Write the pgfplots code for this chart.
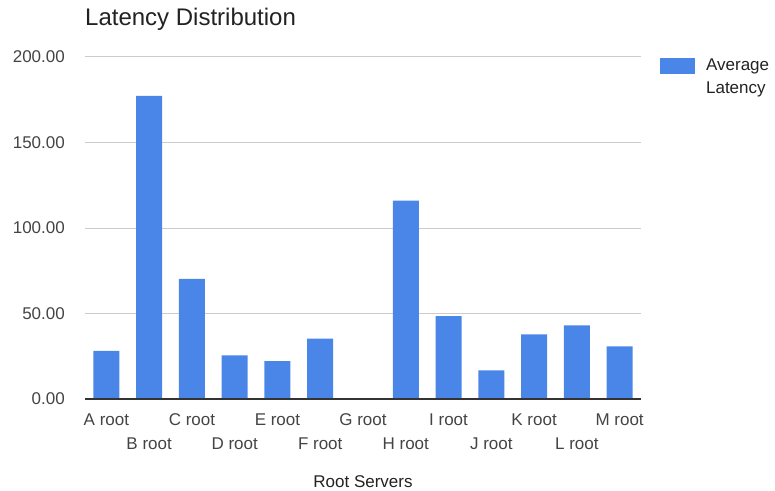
\documentclass[border=0pt]{standalone}
\usepackage{pgfplots}
\pgfplotsset{compat=1.18}
\usepackage{fontspec}
\setmainfont{Liberation Sans}
\definecolor{barblue}{HTML}{4A86E8}
\definecolor{gridgray}{HTML}{CCCCCC}
\definecolor{zerogray}{HTML}{333333}
\definecolor{ticktext}{HTML}{444444}
\definecolor{titletext}{HTML}{222222}
\begin{document}
\begin{tikzpicture}
\useasboundingbox (0,0) rectangle (775pt,490pt);
\begin{axis}[
  at={(85pt,91pt)}, anchor=south west,
  scale only axis, width=556pt, height=342pt,
  ybar, bar width=26pt,
  xmin=-0.5, xmax=12.5, ymin=0, ymax=200,
  ytick={0,50,100,150,200},
  xtick={0,...,12},
  xticklabels={\strut A root, {\strut\\\strut B root}, \strut C root, {\strut\\\strut D root}, \strut E root, {\strut\\\strut F root}, \strut G root, {\strut\\\strut H root}, \strut I root, {\strut\\\strut J root}, \strut K root, {\strut\\\strut L root}, \strut M root},
  /pgf/number format/fixed, /pgf/number format/fixed zerofill,
  /pgf/number format/precision=2, /pgf/number format/assume math mode=true,
  major tick length=0pt, tick style={draw=none},
  axis line style={draw=none},
  ymajorgrids, grid style={draw=gridgray, line width=1pt},
  yticklabel style={inner sep=0pt, xshift=-20pt, font=\fontsize{17}{20}\selectfont, text=ticktext},
  xticklabel style={align=center, inner sep=0pt, yshift=-9.9pt, font=\fontsize{17}{24}\selectfont, text=ticktext},
  title={Latency Distribution},
  title style={at={(axis description cs:0,1)}, anchor=base west, yshift=25pt, inner sep=0pt, font=\fontsize{24}{28}\selectfont, text=titletext},
  xlabel={Root Servers},
  xlabel style={at={(axis description cs:0.5,0)}, anchor=base, yshift=-88pt, inner sep=0pt, font=\fontsize{17}{20}\selectfont, text=titletext},
  legend style={at={(axis description cs:1.034,1)}, anchor=north west, draw=none, fill=none, inner sep=0pt, column sep=9pt, font=\fontsize{17}{23}\selectfont, text=titletext, nodes={align=left}},
  legend cell align=left,
]
\addplot[fill=barblue, draw=none, legend image code/.code={\fill[barblue] (0pt,3.5pt) rectangle (35pt,19.5pt);}] coordinates {
 (0,28.2) (1,177.2) (2,70.2) (3,25.5) (4,22.2) (5,35.3) (6,0) (7,116.0) (8,48.4) (9,16.8) (10,37.8) (11,43.1) (12,30.8)};
\addlegendentry{Average\\Latency}
\draw[zerogray, line width=1.3pt] (axis cs:-0.5,0) -- (axis cs:12.5,0);
\end{axis}
\end{tikzpicture}
\end{document}
